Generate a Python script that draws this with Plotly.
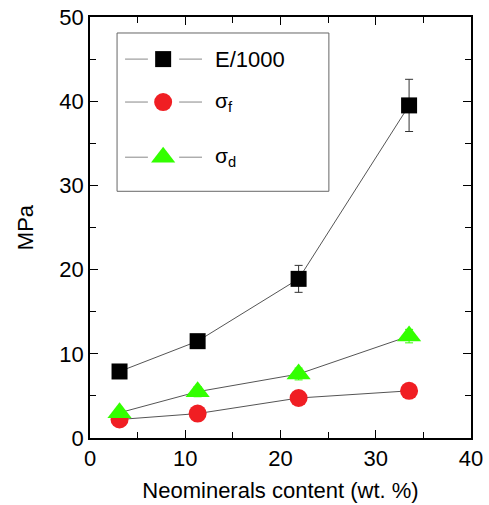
import plotly.graph_objects as go

# Neomineral content (wt. %) of each sample
content = [3.1, 11.3, 21.9, 33.5]

# Young's modulus / 1000 (MPa) with standard deviation
e_mod = [7.9, 11.5, 18.9, 39.5]
e_err = [0.4, 0.5, 1.6, 3.1]

# Flexural strength sigma_f (MPa)
sigma_f = [2.2, 2.9, 4.75, 5.6]
sigma_f_err = [0.3, 0.4, 0.5, 0.6]

# Diametral strength sigma_d (MPa)
sigma_d = [3.0, 5.5, 7.6, 12.1]
sigma_d_err = [0.5, 0.6, 0.7, 0.8]

series = [
    dict(name="E/1000", y=e_mod, err=e_err, symbol="square", size=16,
         color="#000000", errcolor="#333333", label="E/1000"),
    dict(name="sf", y=sigma_f, err=sigma_f_err, symbol="circle", size=18,
         color="#f01e23", errcolor="#f01e23", label="σ<sub>f</sub>"),
    dict(name="sd", y=sigma_d, err=sigma_d_err, symbol="triangle-up", size=21,
         color="#33ff00", errcolor="#33ff00", label="σ<sub>d</sub>"),
]

FONT = "Liberation Sans, Arial, sans-serif"
LINE_GREY = "#555555"

fig = go.Figure()

for s in series:
    fig.add_trace(go.Scatter(
        x=content, y=s["y"], mode="lines+markers", name=s["name"],
        line=dict(color=LINE_GREY, width=1),
        marker=dict(symbol=s["symbol"], size=s["size"], color=s["color"],
                    line=dict(width=0)),
        error_y=dict(type="data", array=s["err"], visible=True,
                     color=s["errcolor"], thickness=1, width=4),
        showlegend=False,
    ))

# Hand-drawn key: short line segments either side of each marker
rows_y = [0.900, 0.798, 0.667]
seg_left = (0.092, 0.152)
seg_right = (0.234, 0.294)
marker_x = 0.192
text_x = 0.323

shapes = [dict(type="rect", xref="paper", yref="paper",
               x0=0.071, x1=0.627, y0=0.586, y1=0.962,
               line=dict(color="#666666", width=1), fillcolor="white",
               layer="below")]
annotations = []
for s, ry in zip(series, rows_y):
    for x0, x1 in (seg_left, seg_right):
        shapes.append(dict(type="line", xref="paper", yref="paper",
                           x0=x0, x1=x1, y0=ry, y1=ry,
                           line=dict(color="#888888", width=1), layer="below"))
    fs = 22 if s["name"] == "E/1000" else 21
    annotations.append(dict(xref="paper", yref="paper", x=text_x, y=ry,
                            text=s["label"], showarrow=False, xanchor="left",
                            yanchor="middle",
                            font=dict(family=FONT, size=fs, color="black")))
    fig.add_trace(go.Scatter(
        x=[marker_x], y=[ry], xaxis="x2", yaxis="y2", mode="markers",
        marker=dict(symbol=s["symbol"], size=s["size"], color=s["color"],
                    line=dict(width=0)),
        showlegend=False, hoverinfo="skip", cliponaxis=False,
    ))

axis_common = dict(
    showline=True, linecolor="black", linewidth=1.5, mirror="allticks",
    ticks="inside", ticklen=8, tickwidth=1.3, tickcolor="black",
    showgrid=False, zeroline=False, automargin=False,
    tickfont=dict(family=FONT, size=22, color="black"),
    minor=dict(ticks="inside", ticklen=6, tickwidth=1.3, tickcolor="black",
               showgrid=False, dtick=5),
)

fig.update_layout(
    width=489, height=505,
    margin=dict(l=90, r=18, t=17, b=67),
    paper_bgcolor="white", plot_bgcolor="white",
    xaxis=dict(range=[0, 40], dtick=10, **axis_common,
               title=dict(text="Neominerals content (wt. %)",
                          font=dict(family=FONT, size=22, color="black"),
                          standoff=12)),
    yaxis=dict(range=[0, 50], dtick=10, **axis_common,
               title=dict(text="MPa",
                          font=dict(family=FONT, size=22, color="black"),
                          standoff=20)),
    xaxis2=dict(range=[0, 1], overlaying="x", visible=False, fixedrange=True),
    yaxis2=dict(range=[0, 1], overlaying="y", visible=False, fixedrange=True),
    shapes=shapes,
    annotations=annotations,
    showlegend=False,
)

fig.write_html("out.html")
